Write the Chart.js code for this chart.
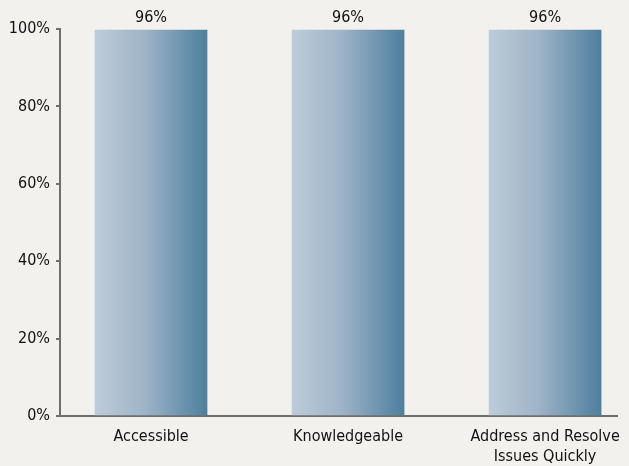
<!DOCTYPE html>
<html>
<head>
<meta charset="utf-8">
<script src="https://cdn.jsdelivr.net/npm/chart.js@4/dist/chart.umd.min.js"></script>
<style>
  html, body { margin: 0; padding: 0; background: #f2f1ee; }
  #wrap { width: 629px; height: 466px; }
</style>
</head>
<body>
<div id="wrap"><canvas id="chart"></canvas></div>
<script>
// categories and values
const categories = ['Accessible', 'Knowledgeable', ['Address and Resolve', 'Issues Quickly']];
const barHeights = [99.7, 99.7, 99.7];     // bars reach the top of the axis
const valueLabels = ['96%', '96%', '96%']; // labels printed above the bars
const yTicks = [0, 20, 40, 60, 80, 100];

const FONT = "'Liberation Sans Narrow', 'Arial Narrow', 'DejaVu Sans Condensed', sans-serif";
const BAR_W = 112;

// horizontal gradient across each bar
function barGradient(context) {
    const chart = context.chart;
    const area = chart.chartArea;
    if (!area) return '#7f9fb8';
    const cx = chart.scales.x.getPixelForValue(context.dataIndex);
    const g = chart.ctx.createLinearGradient(cx - BAR_W / 2, 0, cx + BAR_W / 2, 0);
    g.addColorStop(0, '#bdccd9');
    g.addColorStop(0.45, '#9db3c7');
    g.addColorStop(1, '#4e7f9e');
    return g;
}

// value labels above bars
const topLabels = {
    id: 'topLabels',
    afterDatasetsDraw(chart) {
        const ctx = chart.ctx;
        const meta = chart.getDatasetMeta(0);
        ctx.save();
        ctx.font = '16px ' + FONT;
        ctx.fillStyle = '#111';
        ctx.textAlign = 'center';
        ctx.textBaseline = 'bottom';
        meta.data.forEach((bar, i) => {
            ctx.fillText(valueLabels[i], bar.x, bar.y - 4);
        });
        ctx.restore();
    }
};

new Chart(document.getElementById('chart'), {
    type: 'bar',
    data: {
        datasets: [{
            data: barHeights.map((v, i) => ({ x: i, y: v })),
            backgroundColor: barGradient,
            barThickness: BAR_W,
            borderWidth: 0
        }]
    },
    options: {
        responsive: true,
        maintainAspectRatio: false,
        animation: false,
        layout: { padding: { top: 29, right: 12, bottom: 0, left: 0 } },
        plugins: { legend: { display: false }, tooltip: { enabled: false } },
        scales: {
            x: {
                type: 'linear',
                offset: false,
                min: -0.462,
                max: 2.365,
                afterBuildTicks(scale) {
                    scale.ticks = categories.map((_, i) => ({ value: i }));
                },
                afterFit(scale) {
                    scale.height = 50;
                    scale.paddingLeft = 0;
                    scale.paddingRight = 0;
                },
                ticks: {
                    autoSkip: false,
                    maxRotation: 0,
                    padding: 11,
                    color: '#111',
                    font: { family: FONT, size: 16, lineHeight: 1.25 },
                    callback: (v) => categories[v]
                },
                grid: { display: false, drawTicks: false },
                border: { display: true, color: '#6e6e6e', width: 2 }
            },
            y: {
                min: 0,
                max: 100,
                afterBuildTicks(scale) {
                    scale.ticks = yTicks.map(v => ({ value: v }));
                },
                afterFit(scale) { scale.width = 60; },
                ticks: {
                    padding: 6,
                    color: '#111',
                    font: { family: FONT, size: 16 },
                    callback: (v) => v + '%'
                },
                grid: { drawOnChartArea: false, tickLength: 4, color: '#6e6e6e', lineWidth: 2 },
                border: { display: true, color: '#6e6e6e', width: 2 }
            }
        }
    },
    plugins: [topLabels]
});
</script>
</body>
</html>
